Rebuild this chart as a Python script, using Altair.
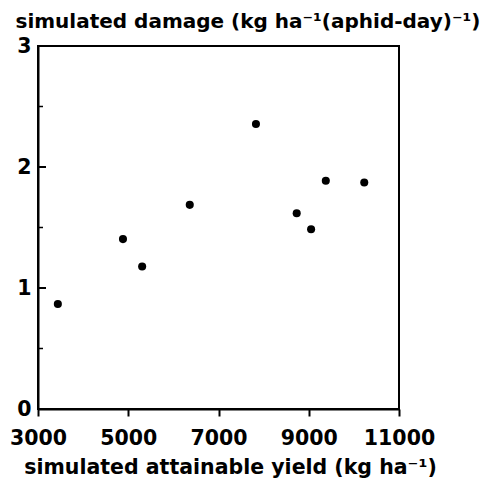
import altair as alt
import pandas as pd

# data
yield_kg = [3440, 4883, 5308, 6363, 7830, 8733, 9052, 9378, 10230]
damage = [0.867, 1.404, 1.178, 1.687, 2.356, 1.618, 1.486, 1.886, 1.872]
x_ticks = [3000, 5000, 7000, 9000, 11000]
y_ticks = [0, 1, 2, 3]
y_major_inner = [1, 2]
y_minor_inner = [0.5, 1.5, 2.5]

df = pd.DataFrame({"yield": yield_kg, "damage": damage})
FONT = "DejaVu Sans"

xscale = alt.Scale(domain=[3000, 11000], nice=False)
yscale = alt.Scale(domain=[0, 3], nice=False)

points = alt.Chart(df).mark_circle(size=65, color="black", opacity=1).encode(
    x=alt.X("yield:Q", scale=xscale,
            axis=alt.Axis(values=x_ticks, format="d", grid=False,
                          title="simulated attainable yield (kg ha\u207b\u00b9)",
                          titleFont=FONT, titleFontSize=20.5, titleFontWeight="bold",
                          titleColor="black", titleX=192, titleY=64,
                          titleBaseline="alphabetic", titleAlign="center",
                          labelFont=FONT, labelFontSize=20.5, labelFontWeight="bold",
                          labelColor="black", labelBaseline="alphabetic",
                          labelPadding=28, tickSize=7, tickWidth=2, tickColor="black",
                          domainColor="black", domainWidth=2, labelFlush=False)),
    y=alt.Y("damage:Q", scale=yscale,
            axis=alt.Axis(values=y_ticks, format="d", grid=False,
                          title="simulated damage (kg ha\u207b\u00b9(aphid-day)\u207b\u00b9)",
                          titleFont=FONT, titleFontSize=20, titleFontWeight="bold",
                          titleColor="black", titleAngle=0, titleX=-23, titleY=-19,
                          titleAlign="left", titleBaseline="alphabetic",
                          labelFont=FONT, labelFontSize=20.5, labelFontWeight="bold",
                          labelColor="black", labelPadding=7, tickSize=0,
                          domainColor="black", domainWidth=2, labelFlush=False)),
)

major = alt.Chart(pd.DataFrame({"v": y_major_inner})).mark_rule(color="black", strokeWidth=2).encode(
    y=alt.Y("v:Q", scale=yscale), x=alt.value(0), x2=alt.value(8))
minor = alt.Chart(pd.DataFrame({"v": y_minor_inner})).mark_rule(color="black", strokeWidth=1.5).encode(
    y=alt.Y("v:Q", scale=yscale), x=alt.value(0), x2=alt.value(5))

chart = alt.layer(points, major, minor).properties(
    width=361, height=363,
    autosize=alt.AutoSizeParams(type="none"),
    padding={"left": 30, "top": 38, "right": 90, "bottom": 80},
    background="white",
).configure_view(stroke="black", strokeWidth=2)

chart.save("out.html", embed_options={"renderer": "svg", "actions": False})
